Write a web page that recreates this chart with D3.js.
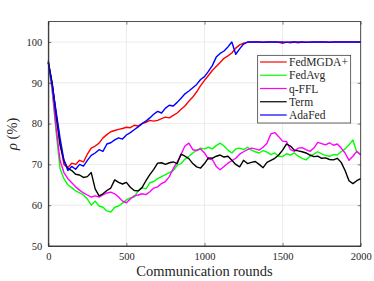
<!DOCTYPE html>
<html><head><meta charset="utf-8">
<script src="https://cdn.jsdelivr.net/npm/d3@7"></script>
<style>body{margin:0;background:#fff}svg{display:block}</style>
</head><body>
<svg id="c" width="374" height="281"></svg>
<script>
const rounds = d3.range(0, 2001, 25);
const fedMGDA = [95,89.5,82.5,75.5,70,69.2,70.3,70,71,70.6,72.5,74,74.5,75.2,76.5,77.3,78,78.3,78.6,78.8,79.1,79,79.6,79.4,80,80.3,80.8,80.6,80.8,81.2,81.6,81.4,82,82.6,83.5,84.3,85.5,86.5,87.8,89.3,90.6,91.8,93,94,95,96,96.6,97.3,98.5,99.3,99.7,99.9,100,100,100,100,100,100,100,99.9,99.7,100,99.8,100,99.8,100,100,99.9,100,100,100,100,100,100,100,100,100,100,100,100,100];
const fedAvg = [95,88,78,69,66.5,65,64.3,63.5,63,62.5,61.5,60,61,59.8,59.5,58.6,58.3,59.5,59.8,60.5,61.3,61.8,62,63.5,64.3,64,65.5,65.8,66.5,67,67.5,68,68.5,69.8,70.2,71.3,72,72.8,73.5,74,73.8,74.2,73.8,74.6,75.2,74.5,73.5,72.8,73.8,74,73.6,74.2,73.5,73.1,72.8,73.4,73,72.4,72.8,72,71.9,72.6,72.3,72.8,72,71.5,71.1,72,72.5,73.1,72.6,72.2,72,72.4,72.3,73.1,73.8,74.8,76,73,72.5];
const qFFL = [95.5,88.5,79,71,68,66.5,65.5,64.5,63.7,63,62.5,62,62.3,62,62.5,63,63.2,62.8,62,61,60.6,61.5,62.3,62.5,62.8,62.6,63.3,64.2,64.5,65.3,65.8,67,69,70.5,72.5,74.5,75.2,73.6,73.4,73.8,72.8,71.3,71.2,69.5,68.7,69.5,70.3,70.9,71.5,72.5,73.1,73.6,74,73.8,73.5,74.2,75.2,77.5,77.8,76.8,75.7,75.6,73.6,73.2,74,74.1,73.6,73.2,74,75.4,75.1,74.8,75.3,74.7,75,74,72.8,71,72,73.2,72.3];
const term = [95,90,82,74.8,71,69,68.5,67.6,67.4,66.8,67,68,64,62.3,62.8,63.6,64.2,66.2,65.6,65.2,65.6,64.4,63.6,63.5,64.3,66,67.5,68.8,70.3,70.4,70,70.4,70.6,70.2,72.5,72,71.4,70.2,69.4,69.1,70.2,71.6,71.5,72,72.3,71.8,72,71,70,69.4,71,70.2,70.5,70.7,70,69.2,70.5,71,71.5,72.3,73.5,75,74.5,73.5,73.3,73.1,72.8,72.3,71.9,72,71.5,71.6,71.2,71.1,71.5,70.5,68.5,66,65.3,66,66.5];
const adaFed = [95,89.5,83,76.5,71,68.5,69.5,68.8,70,69.6,71,72.2,72.8,73.6,73.2,75,75.3,76,76.5,76.2,77.2,77.8,78.5,79.2,80,80.6,81.4,82.3,83,82.6,83.8,84.5,84.3,85.2,86.2,87.3,88,88.8,89.6,90.8,91.5,92.8,94.2,96.3,97.2,97.8,98.8,100,97,98.3,99.5,100,100,100,100,99.9,100,100,100,100,100,99.9,100,100,100,100,99.9,100,100,100,100,100,99.9,100,100,100,100,100,100,100,100];
const seriesNames = ["FedMGDA+","FedAvg","q-FFL","Term","AdaFed"];
const seriesColors = ["#ff0000","#00ff00","#ff00ff","#000000","#0000ff"];
const seriesValues = [fedMGDA, fedAvg, qFFL, term, adaFed];
const xTicks = [0,500,1000,1500,2000];
const yTicks = [50,60,70,80,90,100];

const svg = d3.select("#c");
const L = 48.3, R = 360.7, T = 21.6, B = 246;
const x = d3.scaleLinear().domain([0,2000]).range([L,R]);
const y = d3.scaleLinear().domain([50,105]).range([B,T]);
const font = "'Liberation Serif','DejaVu Serif',serif";

// grid
const g = svg.append("g");
g.selectAll(".gx").data(xTicks).join("line")
  .attr("x1",d=>x(d)).attr("x2",d=>x(d)).attr("y1",T).attr("y2",B)
  .attr("stroke","#e4e4e4").attr("stroke-width",0.7);
g.selectAll(".gy").data(yTicks).join("line")
  .attr("y1",d=>y(d)).attr("y2",d=>y(d)).attr("x1",L).attr("x2",R)
  .attr("stroke","#e4e4e4").attr("stroke-width",0.7);

// lines
const line = d3.line().x((d,i)=>x(rounds[i])).y(d=>y(d));
seriesValues.forEach((vals,k)=>{
  svg.append("path").datum(vals).attr("d",line)
    .attr("fill","none").attr("stroke",seriesColors[k]).attr("stroke-width",1.4)
    .attr("stroke-linejoin","round");
});

// axes
const fmt = d3.format("d");
const axB = svg.append("g").attr("transform",`translate(0,${B})`)
  .call(d3.axisBottom(x).tickValues(xTicks).tickFormat(fmt).tickSizeInner(-3).tickSizeOuter(0).tickPadding(7));
const axL = svg.append("g").attr("transform",`translate(${L},0)`)
  .call(d3.axisLeft(y).tickValues(yTicks).tickFormat(fmt).tickSizeInner(-3).tickSizeOuter(0).tickPadding(6));
const axT = svg.append("g").attr("transform",`translate(0,${T})`)
  .call(d3.axisTop(x).tickValues(xTicks).tickSizeInner(-3).tickSizeOuter(0).tickFormat(""));
const axR = svg.append("g").attr("transform",`translate(${R},0)`)
  .call(d3.axisRight(y).tickValues(yTicks).tickSizeInner(-3).tickSizeOuter(0).tickFormat(""));
[axB,axL,axT,axR].forEach(a=>{
  a.select(".domain").attr("stroke","#262626").attr("stroke-width",0.8);
  a.selectAll(".tick line").attr("stroke","#262626").attr("stroke-width",0.6);
  a.selectAll("text").attr("font-family",font).attr("font-size",10.5).attr("fill","#262626");
});
axT.select(".domain").remove(); axR.select(".domain").remove();
svg.append("rect").attr("x",L).attr("y",T).attr("width",R-L).attr("height",B-T)
  .attr("fill","none").attr("stroke","#262626").attr("stroke-width",0.8);

// axis labels
svg.append("text").attr("x",(L+R)/2).attr("y",276).attr("text-anchor","middle")
  .attr("font-family",font).attr("font-size",14.5).attr("fill","#262626").text("Communication rounds");
const yl = svg.append("text").attr("transform",`translate(17,${(T+B)/2}) rotate(-90)`)
  .attr("text-anchor","middle").attr("font-family",font).attr("font-size",14.5).attr("fill","#262626");
yl.append("tspan").attr("font-style","italic").text("ρ");
yl.append("tspan").text(" (%)");

// legend
const lg = svg.append("g");
lg.append("rect").attr("x",257.7).attr("y",55.3).attr("width",93).attr("height",67.7)
  .attr("fill","#fff").attr("stroke","#262626").attr("stroke-width",0.7);
seriesNames.forEach((n,k)=>{
  const yy = 62 + k*13.25;
  lg.append("line").attr("x1",260).attr("x2",286.7).attr("y1",yy).attr("y2",yy)
    .attr("stroke",seriesColors[k]).attr("stroke-width",1.2);
  lg.append("text").attr("x",289).attr("y",yy).attr("dy","0.35em")
    .attr("font-family",font).attr("font-size",11.5).attr("fill","#262626").text(n);
});
</script>
</body></html>
